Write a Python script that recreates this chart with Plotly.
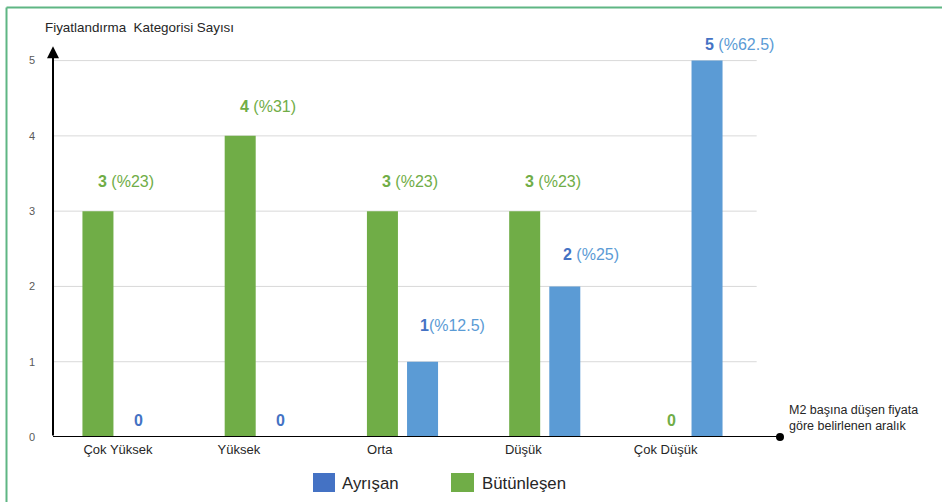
import plotly.graph_objects as go

# Price-range categories (x axis) and counts per group
categories = ["Çok Yüksek", "Yüksek", "Orta", "Düşük", "Çok Düşük"]
butunlesen = [3, 4, 3, 3, 0]          # green series
ayrisan = [0, 0, 1, 2, 5]             # blue series
butunlesen_pct = ["23", "31", "23", "23", None]
ayrisan_pct = [None, None, "12.5", "25", "62.5"]

y_ticks = [0, 1, 2, 3, 4, 5]
y_title = "Fiyatlandırma  Kategorisi Sayısı"
x_title = "M2 başına düşen fiyata<br>göre belirlenen aralık"
legend_names = ["Ayrışan", "Bütünleşen"]

GREEN = "#70ad47"
BLUE_BAR = "#5b9bd5"
BLUE_DARK = "#4472c4"
TEXT = "#262626"
FONT = "Arial, Liberation Sans, sans-serif"

W, H = 942, 502
# plot area in pixels
L, R, T, B = 53, 815, 38, 437
X0, X1 = -0.457, 4.9
Y0, Y1 = 0, 5.3
OFF = 0.141
BW = 0.218


def px(x):
    return (x - L) / (R - L)


def py(y):
    return (B - y) / (B - T)


idx = list(range(len(categories)))
green_x = [i - OFF for i in idx]
blue_x = [i + OFF for i in idx]

fig = go.Figure()
fig.add_trace(go.Bar(x=green_x, y=butunlesen, width=BW, marker_color=GREEN,
                     marker_line_width=0, name=legend_names[1], showlegend=False,
                     hoverinfo="skip"))
fig.add_trace(go.Bar(x=blue_x, y=ayrisan, width=BW, marker_color=BLUE_BAR,
                     marker_line_width=0, name=legend_names[0], showlegend=False,
                     hoverinfo="skip"))

x_end = 4.654
# dot at the end of the horizontal axis
fig.add_trace(go.Scatter(x=[x_end], y=[0], mode="markers",
                         marker=dict(color="black", size=8),
                         cliponaxis=False, showlegend=False, hoverinfo="skip"))

shapes = []
# light gridlines
for v in y_ticks[1:]:
    shapes.append(dict(type="line", xref="x", yref="y", x0=X0, x1=4.49, y0=v, y1=v,
                       line=dict(color="#d9d9d9", width=1), layer="below"))
# horizontal axis line
shapes.append(dict(type="line", xref="x", yref="y", x0=X0, x1=x_end, y0=0, y1=0,
                   line=dict(color="black", width=2)))
# green frame (top and left edges)
shapes.append(dict(type="line", xref="paper", yref="paper", x0=px(6.5), x1=px(W + 5),
                   y0=py(7.5), y1=py(7.5), line=dict(color="#5fb683", width=2)))
shapes.append(dict(type="line", xref="paper", yref="paper", x0=px(6.5), x1=px(6.5),
                   y0=py(7.5), y1=py(H + 5), line=dict(color="#5fb683", width=2)))
# legend swatches
shapes.append(dict(type="rect", xref="paper", yref="paper", x0=px(313), x1=px(335),
                   y0=py(473), y1=py(492), fillcolor=BLUE_DARK, line_width=0))
shapes.append(dict(type="rect", xref="paper", yref="paper", x0=px(451), x1=px(474),
                   y0=py(473), y1=py(492), fillcolor=GREEN, line_width=0))

annotations = []
# vertical axis with arrow
annotations.append(dict(x=X0, y=5.19, ax=X0, ay=0, xref="x", yref="y", axref="x", ayref="y",
                        showarrow=True, arrowhead=2, arrowsize=1.2, arrowwidth=2,
                        arrowcolor="black", text=""))

green_shift = [30, 29, 30, 30, 17]
blue_shift = [17, 17, 36, 32, 16]

for i in idx:
    v, p = butunlesen[i], butunlesen_pct[i]
    if p is None:
        txt = f"<b>{v}</b>"
        xa, xx = "center", green_x[i] + 0.03
    else:
        txt = f"<b>{v}</b> (%{p})"
        xa, xx = "left", green_x[i] - 0.015
    annotations.append(dict(x=xx, y=v, xref="x", yref="y", text=txt, showarrow=False,
                            xanchor=xa, yanchor="middle", yshift=green_shift[i],
                            font=dict(family=FONT, size=16, color=GREEN)))
    v, p = ayrisan[i], ayrisan_pct[i]
    if p is None:
        txt = f"<b>{v}</b>"
        xa, xx = "center", blue_x[i]
    else:
        sep = "" if p == "12.5" else " "
        txt = f"<b><span style='color:{BLUE_DARK}'>{v}</span></b>{sep}(%{p})"
        xa, xx = "left", blue_x[i] - 0.03
    annotations.append(dict(x=xx, y=v, xref="x", yref="y", text=txt, showarrow=False,
                            xanchor=xa, yanchor="middle", yshift=blue_shift[i],
                            font=dict(family=FONT, size=16,
                                      color=BLUE_DARK if p is None else BLUE_BAR)))

# axis titles
annotations.append(dict(x=px(43), y=py(28), xref="paper", yref="paper", text=y_title,
                        showarrow=False, xanchor="left", yanchor="middle",
                        font=dict(family=FONT, size=13.4, color=TEXT)))
annotations.append(dict(x=px(787), y=py(418), xref="paper", yref="paper", text=x_title,
                        showarrow=False, xanchor="left", yanchor="middle", align="left",
                        font=dict(family=FONT, size=12.5, color=TEXT)))
# legend labels
annotations.append(dict(x=px(340), y=py(483), xref="paper", yref="paper", text=legend_names[0],
                        showarrow=False, xanchor="left", yanchor="middle",
                        font=dict(family=FONT, size=16.8, color=TEXT)))
annotations.append(dict(x=px(480), y=py(483), xref="paper", yref="paper", text=legend_names[1],
                        showarrow=False, xanchor="left", yanchor="middle",
                        font=dict(family=FONT, size=16.8, color=TEXT)))

tick_pos = [0, 0.85, 1.84, 2.85, 3.85]

fig.update_layout(
    width=W, height=H,
    margin=dict(l=L, r=W - R, t=T, b=H - B, pad=0),
    paper_bgcolor="white", plot_bgcolor="white",
    barmode="overlay",
    showlegend=False,
    shapes=shapes,
    annotations=annotations,
    font=dict(family=FONT, color=TEXT),
    xaxis=dict(range=[X0, X1], tickvals=tick_pos, ticktext=categories,
               showgrid=False, zeroline=False, showline=False, ticks="",
               tickfont=dict(family=FONT, size=13, color=TEXT), ticklabelstandoff=3,
               fixedrange=True),
    yaxis=dict(range=[Y0, Y1], tickvals=y_ticks, showgrid=False, zeroline=False,
               showline=False, ticks="", ticklabelstandoff=17,
               tickfont=dict(family=FONT, size=11, color="#595959"), fixedrange=True),
)

fig.write_html("out.html")
